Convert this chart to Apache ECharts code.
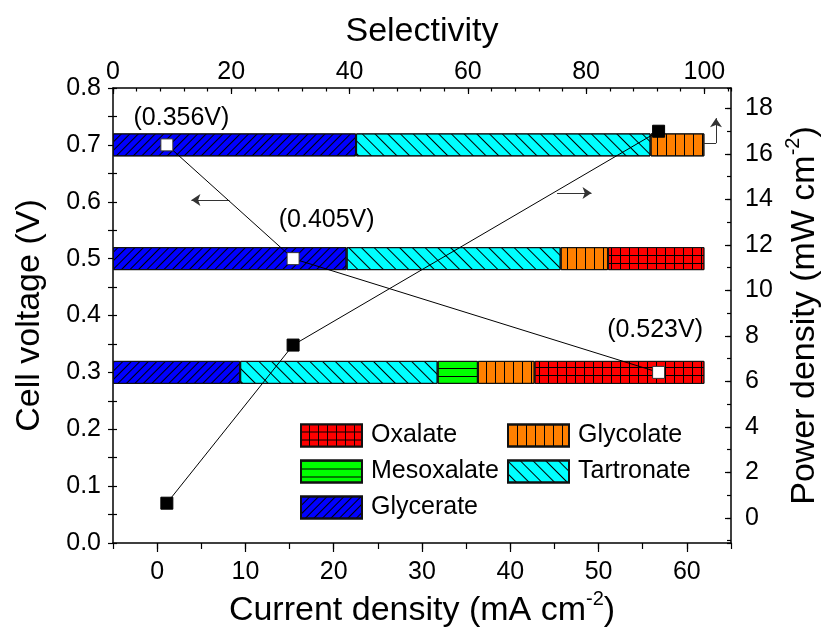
<!DOCTYPE html>
<html><head><meta charset="utf-8">
<script src="https://cdn.jsdelivr.net/npm/echarts@6/dist/echarts.min.js"></script>
<style>html,body{margin:0;padding:0;background:#fff}#c{width:829px;height:631px}</style>
</head><body><div id="c"></div>
<script>
// ---- data ----
const voltTicks = ['0.0','0.1','0.2','0.3','0.4','0.5','0.6','0.7','0.8'];
const barLevels = ['0.7','0.5','0.3'];
const glycerate  = [41.1, 39.5, 21.5];
const tartronate = [49.8, 36.2, 33.4];
const mesoxalate = [0,    0,    6.8];
const glycolate  = [9.1,  8.0,  9.6];
const oxalate    = [0,    16.3, 28.7];
const currentDensity = [1.1, 15.4, 56.8];
const cellVoltage    = [0.7, 0.5, 0.3];
const powerDensity   = [0.65, 7.6, 17.0];
const voltLabels   = ['(0.356V)','(0.405V)','(0.523V)'];
const voltLabelPos = [[2.75,0.747],[19.2,0.568],[56.4,0.375]];
const leftArrow  = [[8.19,0.603],[3.88,0.603]];
const rightArrow = [[45.3,14.29],[49.2,14.29]];
const upArrow    = [[63.3,0.703],[63.3,0.747]];
const upStub     = [[61.9,0.703],[63.3,0.703]];

const FF = 'Liberation Sans, Arial, sans-serif';
const BLK = '#000';

function catData(vals){
  const arr = voltTicks.map(()=> '-');
  barLevels.forEach((lv,i)=>{ const idx = voltTicks.indexOf(lv); arr[idx] = vals[i] > 0 ? vals[i] : '-'; });
  return arr;
}
function barSeries(name, vals, color, decal){
  return {
    name, type:'bar', xAxisIndex:1, yAxisIndex:4, stack:'sel', barWidth:23,
    data: catData(vals),
    itemStyle:{color, borderColor:'#111', borderWidth:1, decal:Object.assign({symbol:'rect', symbolSize:1}, decal)},
    emphasis:{disabled:true}, z:2
  };
}
const axLine = {onZero:false, lineStyle:{color:BLK, width:1.5}};
const noLine = {show:false, onZero:false};
const tickStyle = {color:BLK, width:1.2};
const lbl = (extra)=>Object.assign({fontSize:25, color:BLK, fontFamily:FF}, extra);
const nameStyle = {fontSize:34, color:BLK, fontFamily:FF,
  rich:{sup:{fontSize:20, color:BLK, fontFamily:FF, padding:[0,0,22,0]}}};
const legendText = {fontSize:25, color:BLK, fontFamily:FF, lineHeight:22, padding:[0,0,0,4]};

const option = {
  animation:false,
  backgroundColor:'#fff',
  textStyle:{fontFamily:FF},
  grid:{left:113, right:98, top:88, bottom:88, containLabel:false, outerBoundsMode:'none'},
  legend:[
    {data:['Oxalate','Mesoxalate','Glycerate'], orient:'vertical', left:300, top:423, padding:0,
     itemWidth:61, itemHeight:22, itemGap:11, icon:'rect', selectedMode:false, textStyle:legendText},
    {data:['Glycolate','Tartronate'], orient:'vertical', left:507, top:423, padding:0,
     itemWidth:61, itemHeight:22, itemGap:11, icon:'rect', selectedMode:false, textStyle:legendText}
  ],
  xAxis:[
    {type:'value', position:'bottom', min:-5, max:65, splitNumber:7,
     axisLine:axLine, axisTick:{length:9, lineStyle:tickStyle}, splitLine:{show:false},
     axisLabel:lbl({margin:17, showMinLabel:false, showMaxLabel:false}),
     name:'Current density (mA cm{sup|-2})', nameLocation:'middle', nameGap:45, nameTextStyle:nameStyle},
    {type:'value', position:'top', min:0, max:104.5, interval:20,
     axisLine:axLine, axisTick:{inside:true, length:6, lineStyle:tickStyle}, splitLine:{show:false},
     axisLabel:lbl({margin:3, showMaxLabel:false}),
     name:'Selectivity', nameLocation:'middle', nameGap:39, nameTextStyle:nameStyle},
    {type:'value', position:'bottom', min:-5, max:65, interval:5,
     axisLine:noLine, axisTick:{length:6, lineStyle:tickStyle}, axisLabel:{show:false}, splitLine:{show:false}},
    {type:'value', position:'top', min:0, max:104.5, interval:4,
     axisLine:noLine, axisTick:{inside:true, length:3.5, lineStyle:tickStyle}, axisLabel:{show:false}, splitLine:{show:false}}
  ],
  yAxis:[
    {type:'value', position:'left', min:0, max:0.8, interval:0.1,
     axisLine:axLine, axisTick:{length:5, lineStyle:tickStyle},
     minorTick:{show:true, splitNumber:2, length:5, lineStyle:tickStyle}, splitLine:{show:false}, minorSplitLine:{show:false},
     axisLabel:lbl({margin:12, formatter:v=>v.toFixed(1)}),
     name:'Cell voltage (V)', nameLocation:'middle', nameGap:66, nameTextStyle:nameStyle},
    {type:'value', position:'right', min:-1.1, max:18.9, splitNumber:10,
     axisLine:axLine, axisTick:{inside:true, length:6, lineStyle:tickStyle}, splitLine:{show:false},
     axisLabel:lbl({margin:14, showMinLabel:false, showMaxLabel:false}),
     name:'Power density (mW cm{sup|-2})', nameLocation:'middle', nameGap:48, nameTextStyle:nameStyle},
    {type:'value', position:'right', min:-1.1, max:18.9, splitNumber:20,
     axisLine:noLine, axisTick:{inside:true, length:4, lineStyle:tickStyle}, axisLabel:{show:false}, splitLine:{show:false}},
    {type:'value', position:'left', min:0, max:0.8, interval:0.05,
     axisLine:noLine, axisTick:{inside:true, length:4, lineStyle:tickStyle}, axisLabel:{show:false}, splitLine:{show:false}},
    {type:'category', position:'left', data:voltTicks, boundaryGap:false, show:false}
  ],
  series:[
    barSeries('Glycerate', glycerate, '#0000FF', {color:'#000', dashArrayX:[1,0], dashArrayY:[1,5], rotation:-Math.PI/4}),
    barSeries('Tartronate', tartronate, '#00FFFF', {color:'#000', dashArrayX:[1,0], dashArrayY:[1,8], rotation:Math.PI/4}),
    barSeries('Mesoxalate', mesoxalate, '#00FF00', {color:'#000', dashArrayX:[1,0], dashArrayY:[1,7]}),
    barSeries('Glycolate', glycolate, '#FF8000', {color:'#000', dashArrayX:[1,8], dashArrayY:[1,0]}),
    barSeries('Oxalate', oxalate, '#000000', {color:'#FF0000', dashArrayX:[8,1], dashArrayY:[7,1]}),
    {
      name:'voltage', type:'line', xAxisIndex:0, yAxisIndex:0, z:5,
      data: currentDensity.map((c,i)=>[c, cellVoltage[i]]),
      symbol:'rect', symbolSize:12,
      itemStyle:{color:'#fff', borderColor:'#333', borderWidth:1},
      lineStyle:{color:BLK, width:1}, emphasis:{disabled:true},
      markLine:{silent:true, symbol:['none','arrow'], symbolSize:9, label:{show:false},
        lineStyle:{color:'#333', width:1, type:'solid'}, emphasis:{disabled:true},
        data:[
          [{coord:leftArrow[0]},{coord:leftArrow[1]}],
          [{coord:upArrow[0]},{coord:upArrow[1]}],
          [{coord:upStub[0]},{coord:upStub[1], symbol:'none'}]
        ]},
      markPoint:{silent:true, symbol:'rect', symbolSize:1, itemStyle:{color:'rgba(0,0,0,0)'},
        label:{show:true, position:'inside', formatter:'{b}', fontSize:25, color:BLK, fontFamily:FF},
        data: voltLabels.map((t,i)=>({name:t, coord:voltLabelPos[i]}))}
    },
    {
      name:'power', type:'line', xAxisIndex:0, yAxisIndex:1, z:5,
      data: currentDensity.map((c,i)=>[c, powerDensity[i]]),
      symbol:'rect', symbolSize:12,
      itemStyle:{color:'#000', borderColor:'#000', borderWidth:1},
      lineStyle:{color:BLK, width:1}, emphasis:{disabled:true},
      markLine:{silent:true, symbol:['none','arrow'], symbolSize:9, label:{show:false},
        lineStyle:{color:'#333', width:1, type:'solid'}, emphasis:{disabled:true},
        data:[[{coord:rightArrow[0]},{coord:rightArrow[1]}]]}
    }
  ]
};
const chart = echarts.init(document.getElementById('c'), null, {renderer:'canvas'});
chart.setOption(option);
</script></body></html>
